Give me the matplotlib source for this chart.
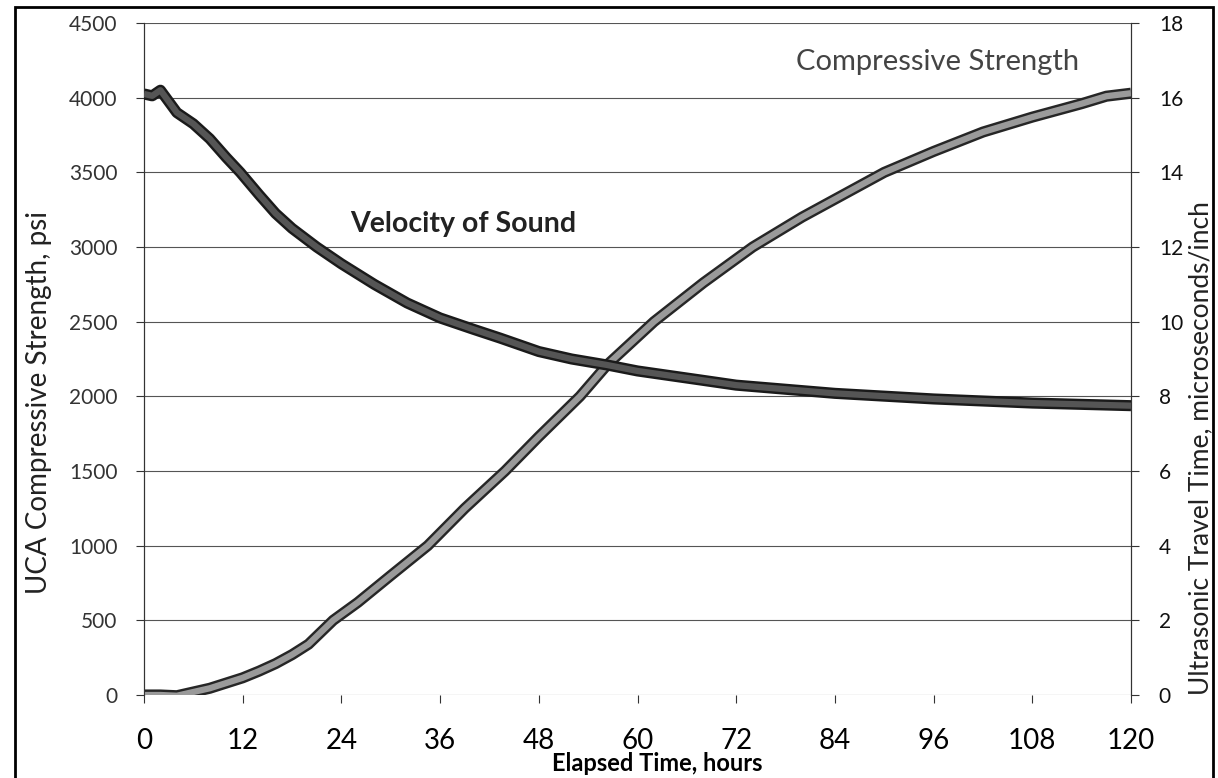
import matplotlib
matplotlib.use("Agg")
import matplotlib.pyplot as plt
import matplotlib.patheffects as pe
from matplotlib.patches import Rectangle

plt.rcParams["font.family"] = ["Lato", "DejaVu Sans"]

# compressive strength (left axis, psi)
cs_hours = [0, 2, 4, 6, 8, 10, 12, 14, 16, 18, 20, 23, 26, 30, 34.5, 39, 43.9, 48,
            53, 56.3, 62, 68, 74, 80, 86, 90, 96, 102, 108, 114, 117, 120]
cs_psi = [0, 0, -5, 20, 45, 80, 115, 160, 210, 270, 340, 500, 620, 800, 1000, 1250,
          1500, 1730, 2000, 2210, 2500, 2760, 3000, 3200, 3380, 3500, 3640, 3770,
          3870, 3960, 4010, 4030]

# ultrasonic travel time (right axis, microseconds/inch)
tt_hours = [0, 1, 2, 3, 4, 6, 8, 10, 11.7, 14, 16, 18, 21, 24, 28, 32, 36, 40, 43.3,
            48, 52, 56.3, 60, 67.6, 72, 84, 96, 108, 120]
tt_us = [16.1, 16.05, 16.2, 15.9, 15.6, 15.3, 14.9, 14.4, 14.0, 13.4, 12.9, 12.5,
         12.0, 11.55, 11.0, 10.5, 10.1, 9.8, 9.56, 9.2, 9.0, 8.84, 8.68, 8.44, 8.3,
         8.08, 7.93, 7.82, 7.75]

x_ticks = list(range(0, 121, 12))
left_ticks = list(range(0, 4501, 500))
right_ticks = list(range(0, 19, 2))

fig = plt.figure(figsize=(12.18, 7.78), dpi=100)
ax = fig.add_axes([0.1182, 0.1067, 0.8104, 0.8637])
ax2 = ax.twinx()

ax.set_xlim(0, 120)
ax.set_ylim(0, 4500)
ax2.set_ylim(0, 18)

for y in left_ticks:
    ax.axhline(y, color="#555555", lw=0.8, zorder=1)

ax.plot(cs_hours, cs_psi, color="#9a9a9a", lw=4.5, solid_capstyle="butt", zorder=3,
        path_effects=[pe.Stroke(linewidth=8, foreground="#262626"), pe.Normal()])
ax2.plot(tt_hours, tt_us, color="#555555", lw=4.5, solid_capstyle="butt", zorder=3,
         path_effects=[pe.Stroke(linewidth=8, foreground="#1a1a1a"), pe.Normal()])

ax.set_xticks(x_ticks)
ax.set_yticks(left_ticks)
ax2.set_yticks(right_ticks)

for a in (ax, ax2):
    a.spines["top"].set_visible(False)
    a.spines["bottom"].set_visible(False)
    a.spines["left"].set_color("#333333")
    a.spines["right"].set_color("#333333")

ax.tick_params(axis="x", length=6, pad=18, labelsize=20, color="#333333")
ax.tick_params(axis="y", length=6, pad=13, labelsize=15, labelcolor="#333333",
               color="#333333")
ax2.tick_params(axis="y", length=6, pad=14, labelsize=15, labelcolor="#111111",
                color="#333333")

ax.set_xlabel("Elapsed Time, hours", fontsize=17, fontweight="bold")
ax.xaxis.set_label_coords(0.52, -0.085)
ax.set_ylabel("UCA Compressive Strength, psi", fontsize=20, color="#222222")
ax.yaxis.set_label_coords(-0.093, 0.436)
ax2.set_ylabel("Ultrasonic Travel Time, microseconds/inch", fontsize=19,
               color="#222222")
ax2.yaxis.set_label_coords(1.058, 0.368)

ax.text(0.661, 0.942, "Compressive Strength", transform=ax.transAxes, fontsize=21,
        color="#444444", ha="left", va="center")
ax.text(0.209, 0.701, "Velocity of Sound", transform=ax.transAxes, fontsize=20.5,
        color="#222222", fontweight="bold", ha="left", va="center")

fig.patches.append(Rectangle((0.0123, -0.01), 0.9836, 1.001, transform=fig.transFigure,
                             fill=False, edgecolor="black", lw=2))

fig.savefig("out.png", dpi=100)
